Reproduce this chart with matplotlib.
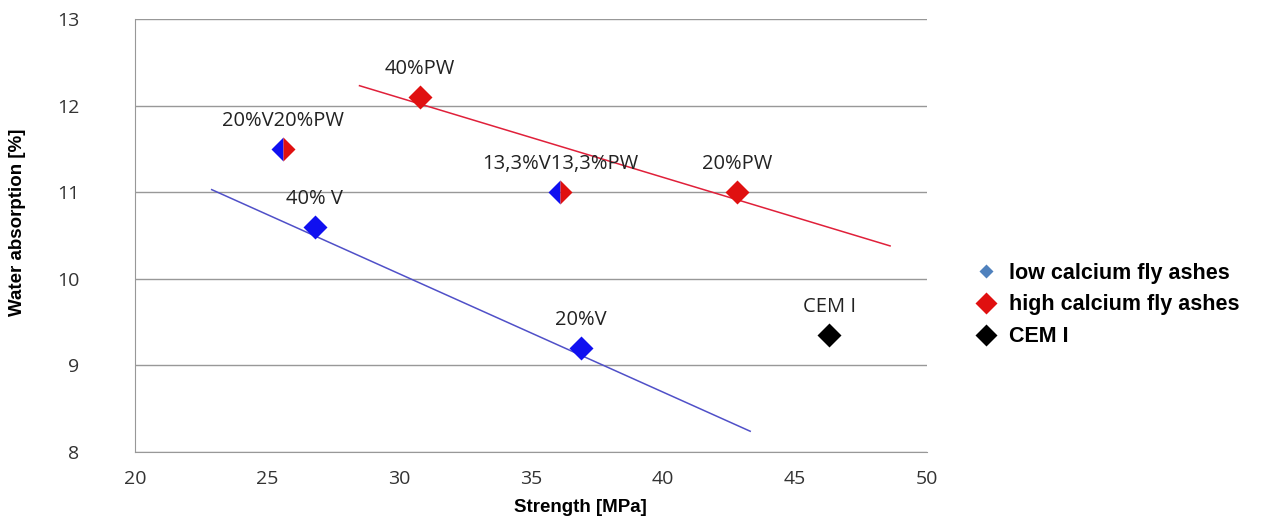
import matplotlib
matplotlib.use('Agg')
import matplotlib.pyplot as plt
from matplotlib.lines import Line2D

# ── Data ───────────────────────────────────────────────
low_x = [26.8, 36.9]
low_y = [10.6, 9.2]
low_labels = ['40% V', '20%V']

high_x = [30.8, 42.8]
high_y = [12.1, 11.0]
high_labels = ['40%PW', '20%PW']

mix_x = [25.6, 36.1]
mix_y = [11.5, 11.0]
mix_labels = ['20%V20%PW', '13,3%V13,3%PW']

cem_x = [46.3]
cem_y = [9.35]
cem_labels = ['CEM I']

# trend lines
low_trend_x = [22.9, 43.3]
low_trend_y = [11.03, 8.24]
high_trend_x = [28.5, 48.6]
high_trend_y = [12.23, 10.38]

BLUE = '#1010F0'
RED = '#E01010'
tick_font = 'Open Sans'
MS = 12

fig = plt.figure(figsize=(12.63, 5.21), dpi=100)
ax = fig.add_axes([0.107, 0.1324, 0.627, 0.8311])

ax.plot(low_trend_x, low_trend_y, color='#5050C8', lw=1.1, zorder=2)
ax.plot(high_trend_x, high_trend_y, color='#E0203A', lw=1.1, zorder=2)

ax.plot(low_x, low_y, 'D', color=BLUE, ms=MS, mec='none', zorder=3)
ax.plot(high_x, high_y, 'D', color=RED, ms=MS, mec='none', zorder=3)
ax.plot(mix_x, mix_y, 'D', ms=MS, mec='none', fillstyle='left',
        markerfacecolor=BLUE, markerfacecoloralt=RED, zorder=3)
ax.plot(cem_x, cem_y, 'D', color='black', ms=MS, mec='none', zorder=3)

for xs, ys, labs in [(low_x, low_y, low_labels), (high_x, high_y, high_labels),
                     (mix_x, mix_y, mix_labels), (cem_x, cem_y, cem_labels)]:
    for x, y, lab in zip(xs, ys, labs):
        ax.annotate(lab, (x, y), xytext=(0, 20), textcoords='offset points',
                    ha='center', va='center', fontsize=14.5, family=tick_font,
                    color='#222222')

ax.set_xlim(20, 50)
ax.set_ylim(8, 13)
ax.set_xticks(range(20, 51, 5))
ax.set_yticks(range(8, 14))
ax.grid(axis='y', color='#989898', lw=1)
ax.set_axisbelow(True)
for s in ['top', 'right']:
    ax.spines[s].set_visible(False)
for s in ['left', 'bottom']:
    ax.spines[s].set_color('#989898')
ax.tick_params(length=0, labelsize=14, colors='#333333')
ax.tick_params(axis='x', pad=13)
ax.tick_params(axis='y', pad=40)
for lab in ax.get_xticklabels() + ax.get_yticklabels():
    lab.set_family(tick_font)

ax.set_xlabel('Strength [MPa]', fontsize=13.5, fontweight='bold',
              family='Liberation Sans', va='center')
ax.set_ylabel('Water absorption [%]', fontsize=13.5, fontweight='bold',
              family='Liberation Sans', va='center')
ax.xaxis.set_label_coords(0.562, -0.129)
ax.yaxis.set_label_coords(-0.148, 0.531)

handles = [
    Line2D([], [], ls='none', marker='D', ms=7, color='#4F81BD', mec='none'),
    Line2D([], [], ls='none', marker='D', ms=11, color=RED, mec='none'),
    Line2D([], [], ls='none', marker='D', ms=11, color='black', mec='none'),
]
fig.legend(handles, ['low calcium fly ashes', 'high calcium fly ashes', 'CEM I'],
           loc='center left', bbox_to_anchor=(0.757, 0.415), frameon=False,
           prop={'family': 'Liberation Sans', 'weight': 'bold', 'size': 15.5},
           handletextpad=0.55, labelspacing=0.5, handlelength=1.0)

fig.savefig('out.png', dpi=100)
